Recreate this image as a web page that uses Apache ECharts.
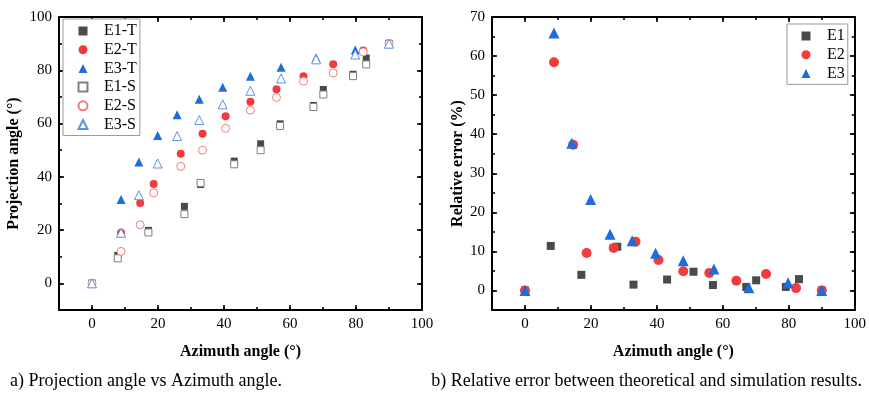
<!DOCTYPE html>
<html><head><meta charset="utf-8">
<script src="https://cdn.jsdelivr.net/npm/echarts@6/dist/echarts.min.js"></script>
<style>html,body{margin:0;padding:0;background:#fff}#c{width:869px;height:396px}</style>
</head><body><div id="c"></div>
<script>
// ---- data ----
const e1X   = [0, 7.8, 17.1, 28.0, 32.9, 43.1, 51.1, 57.0, 67.1, 70.1, 79.1, 83.1, 90];
const e1T   = [0, 10.5, 19.9, 28.9, 37.1, 45.9, 52.4, 59.9, 66.8, 72.8, 78.5, 84.6, 90];
const e1S   = [0, 9.4, 19.1, 26.0, 37.7, 44.7, 50.0, 59.1, 66.2, 70.9, 77.8, 82.2, 90];
const e1Err = [0, 11.4, 4.0, 11.2, 1.5, 2.8, 4.8, 1.4, 0.9, 2.6, 0.9, 2.9, 0];
const e2X   = [0, 8.8, 14.6, 18.7, 26.9, 33.5, 40.5, 48.0, 55.9, 64.1, 73.1, 82.2, 90];
const e2T   = [0, 19.0, 30.2, 37.3, 48.7, 56.2, 62.7, 68.2, 72.9, 77.8, 82.3, 87.4, 90];
const e2S   = [0, 12.0, 22.0, 34.0, 43.9, 50.0, 58.2, 65.0, 69.8, 75.9, 79.0, 86.9, 90];
const e2Err = [0, 58.4, 37.3, 9.6, 10.9, 12.5, 7.8, 4.9, 4.5, 2.5, 4.2, 0.6, 0];
const e3X   = [0, 8.8, 14.2, 19.9, 25.8, 32.5, 39.6, 48.0, 57.3, 67.9, 79.8, 90];
const e3T   = [0, 31.5, 45.6, 55.5, 63.3, 69.1, 73.6, 77.8, 81.1, 84.7, 87.6, 90];
const e3S   = [0, 19.0, 33.1, 45.0, 55.3, 61.3, 67.2, 72.3, 76.9, 84.1, 85.9, 90];
const e3Err = [0, 65.9, 37.7, 23.3, 14.4, 12.7, 9.5, 7.6, 5.5, 0.7, 2.0, 0];

const xTicks      = [0, 20, 40, 60, 80, 100];
const leftYTicks  = [0, 20, 40, 60, 80, 100];
const rightYTicks = [0, 10, 20, 30, 40, 50, 60, 70];

const leftNames  = ['E1-T', 'E2-T', 'E3-T', 'E1-S', 'E2-S', 'E3-S'];
const rightNames = ['E1', 'E2', 'E3'];
const captionA = 'a) Projection angle vs Azimuth angle.';
const captionB = 'b) Relative error between theoretical and simulation results.';

// ---- styling ----
const FONT = '"Liberation Serif", "Times New Roman", serif';
const C1 = '#4a4a4a', C2 = '#f03c3c', C3 = '#1e6ddb';
const C1o = '#808080', C2o = '#f27c7c', C3o = '#5b92ea';

const pair = (xs, ys) => xs.map((x, i) => [x, ys[i]]);

const xAxes = [], yAxes = [];
function addAxes(arr, grid, pos, min, max, majors, minorInterval, withLabel, name, nameGap, rot) {
  const main = {
    type: 'value', gridIndex: grid, position: pos, min: min, max: max,
    axisLine: { show: true, onZero: false, lineStyle: { color: '#000', width: 2 } },
    axisTick: { show: true, inside: true, length: 5, customValues: majors, lineStyle: { color: '#000', width: 1.6 } },
    axisLabel: withLabel ? { show: true, customValues: majors, color: '#000', fontFamily: FONT, fontSize: 15, margin: 7 } : { show: false },
    splitLine: { show: false }
  };
  if (name) {
    main.name = name; main.nameLocation = 'middle'; main.nameGap = nameGap;
    main.nameTextStyle = { color: '#000', fontFamily: FONT, fontSize: 16, fontWeight: 'bold' };
    if (rot !== undefined) main.nameRotate = rot;
  }
  const idx = arr.length;
  arr.push(main);
  arr.push({
    type: 'value', gridIndex: grid, position: pos, min: min, max: max, interval: minorInterval,
    axisLine: { show: false, onZero: false }, axisLabel: { show: false }, splitLine: { show: false },
    axisTick: { show: true, inside: true, length: 3, lineStyle: { color: '#000', width: 1.6 } }
  });
  return idx;
}

// left grid (0)
const lx = addAxes(xAxes, 0, 'bottom', -10, 100, xTicks, 10, true, 'Azimuth angle (°)', 34);
addAxes(xAxes, 0, 'top', -10, 100, xTicks, 10, false);
const ly = addAxes(yAxes, 0, 'left', -10, 100, leftYTicks, 10, true, 'Projection angle (°)', 37, 90);
addAxes(yAxes, 0, 'right', -10, 100, leftYTicks, 10, false);
// right grid (1)
const rx = addAxes(xAxes, 1, 'bottom', -10, 100, xTicks, 10, true, 'Azimuth angle (°)', 34);
addAxes(xAxes, 1, 'top', -10, 100, xTicks, 10, false);
const ry = addAxes(yAxes, 1, 'left', -5, 70, rightYTicks, 5, true, 'Relative error (%)', 26, 90);
addAxes(yAxes, 1, 'right', -5, 70, rightYTicks, 5, false);

function filled(name, xa, ya, data, sym, size, color) {
  return { type: 'scatter', name: name, xAxisIndex: xa, yAxisIndex: ya, data: data,
    symbol: sym, symbolSize: size, itemStyle: { color: color, opacity: 1 }, emphasis: { disabled: true } };
}
function hollow(name, xa, ya, data, sym, size, color) {
  return { type: 'scatter', name: name, xAxisIndex: xa, yAxisIndex: ya, data: data,
    symbol: sym, symbolSize: size, itemStyle: { color: '#fff', borderColor: color, borderWidth: 1, opacity: 1 }, emphasis: { disabled: true } };
}

const series = [
  filled('E1-T', lx, ly, pair(e1X, e1T), 'rect', 7, C1),
  filled('E2-T', lx, ly, pair(e2X, e2T), 'circle', 8, C2),
  filled('E3-T', lx, ly, pair(e3X, e3T), 'triangle', 9, C3),
  hollow('E1-S', lx, ly, pair(e1X, e1S), 'rect', 7, C1o),
  hollow('E2-S', lx, ly, pair(e2X, e2S), 'circle', 8, C2o),
  hollow('E3-S', lx, ly, pair(e3X, e3S), 'triangle', 9, C3o),
  filled('E1', rx, ry, pair(e1X, e1Err), 'rect', 8, C1),
  filled('E2', rx, ry, pair(e2X, e2Err), 'circle', 10, C2),
  filled('E3', rx, ry, pair(e3X, e3Err), 'triangle', 11, C3)
];

const legendBase = {
  orient: 'vertical', itemWidth: 9, itemHeight: 9, itemGap: 2.7,
  padding: [4, 3, 3, 14.5], borderColor: '#9a9a9a', borderWidth: 1, backgroundColor: '#fff',
  textStyle: { color: '#000', fontFamily: FONT, fontSize: 16, lineHeight: 16, padding: [0, 0, 0, 11.5] },
  selectedMode: false
};

const chart = echarts.init(document.getElementById('c'), null, { renderer: 'canvas' });
chart.setOption({
  backgroundColor: '#fff',
  animation: false,
  grid: [
    { left: 59, top: 17, width: 363, height: 293 },
    { left: 492, top: 17, width: 363, height: 293 }
  ],
  xAxis: xAxes,
  yAxis: yAxes,
  legend: [
    Object.assign({}, legendBase, { data: leftNames, left: 63, top: 19 }),
    Object.assign({}, legendBase, { data: rightNames, left: 787, top: 24 })
  ],
  series: series,
  graphic: [
    { type: 'text', left: 10, top: 372, style: { text: captionA, font: '18px ' + FONT, fill: '#000' } },
    { type: 'text', right: 7, top: 372, style: { text: captionB, font: '18px ' + FONT, fill: '#000' } }
  ]
});
</script>
</body></html>
